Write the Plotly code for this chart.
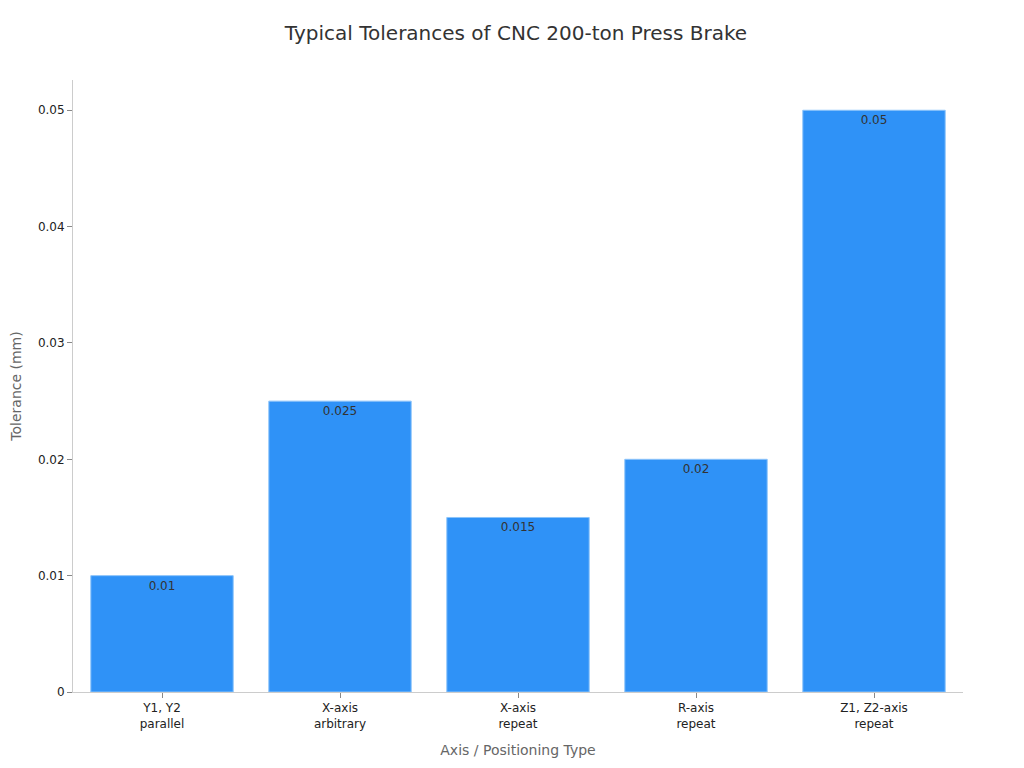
import plotly.graph_objects as go

categories = ["Y1, Y2<br>parallel", "X-axis<br>arbitrary", "X-axis<br>repeat", "R-axis<br>repeat", "Z1, Z2-axis<br>repeat"]
tolerances = [0.01, 0.025, 0.015, 0.02, 0.05]
tick_vals = [0, 0.01, 0.02, 0.03, 0.04, 0.05]
tick_text = ["0", "0.01", "0.02", "0.03", "0.04", "0.05"]

fig = go.Figure(go.Bar(
    x=categories,
    y=tolerances,
    text=[str(v) for v in tolerances],
    textposition="inside",
    insidetextanchor="end",
    textfont=dict(family="DejaVu Sans", size=12, color="#333333"),
    marker=dict(color="#2F92F7", line=dict(color="#8CC4FA", width=1)),
    hoverinfo="skip",
))

fig.update_layout(
    width=1016, height=760,
    paper_bgcolor="white", plot_bgcolor="white",
    margin=dict(l=65, r=61, t=72, b=76),
    bargap=0.2,
    showlegend=False,
    font=dict(family="DejaVu Sans", color="#222222"),
    title=dict(text="Typical Tolerances of CNC 200-ton Press Brake",
               x=0.5, xanchor="center", y=1 - 25 / 760, yanchor="middle",
               font=dict(size=20, color="#333333")),
    xaxis=dict(
        title=dict(text="Axis / Positioning Type", font=dict(size=14, color="#666666")),
        showline=True, linecolor="#cccccc", linewidth=1,
        ticks="outside", ticklen=5, tickcolor="#888888",
        tickfont=dict(size=12, color="#222222"),
        showgrid=False, automargin=False,
    ),
    yaxis=dict(
        title=dict(text="Tolerance (mm)", font=dict(size=14, color="#666666")),
        range=[0, 0.0526],
        tickvals=tick_vals, ticktext=tick_text,
        showline=True, linecolor="#cccccc", linewidth=1,
        ticks="outside", ticklen=5, tickcolor="#888888",
        tickfont=dict(size=12, color="#222222"),
        showgrid=False, zeroline=False, automargin=False,
    ),
)

fig.write_html("out.html")
